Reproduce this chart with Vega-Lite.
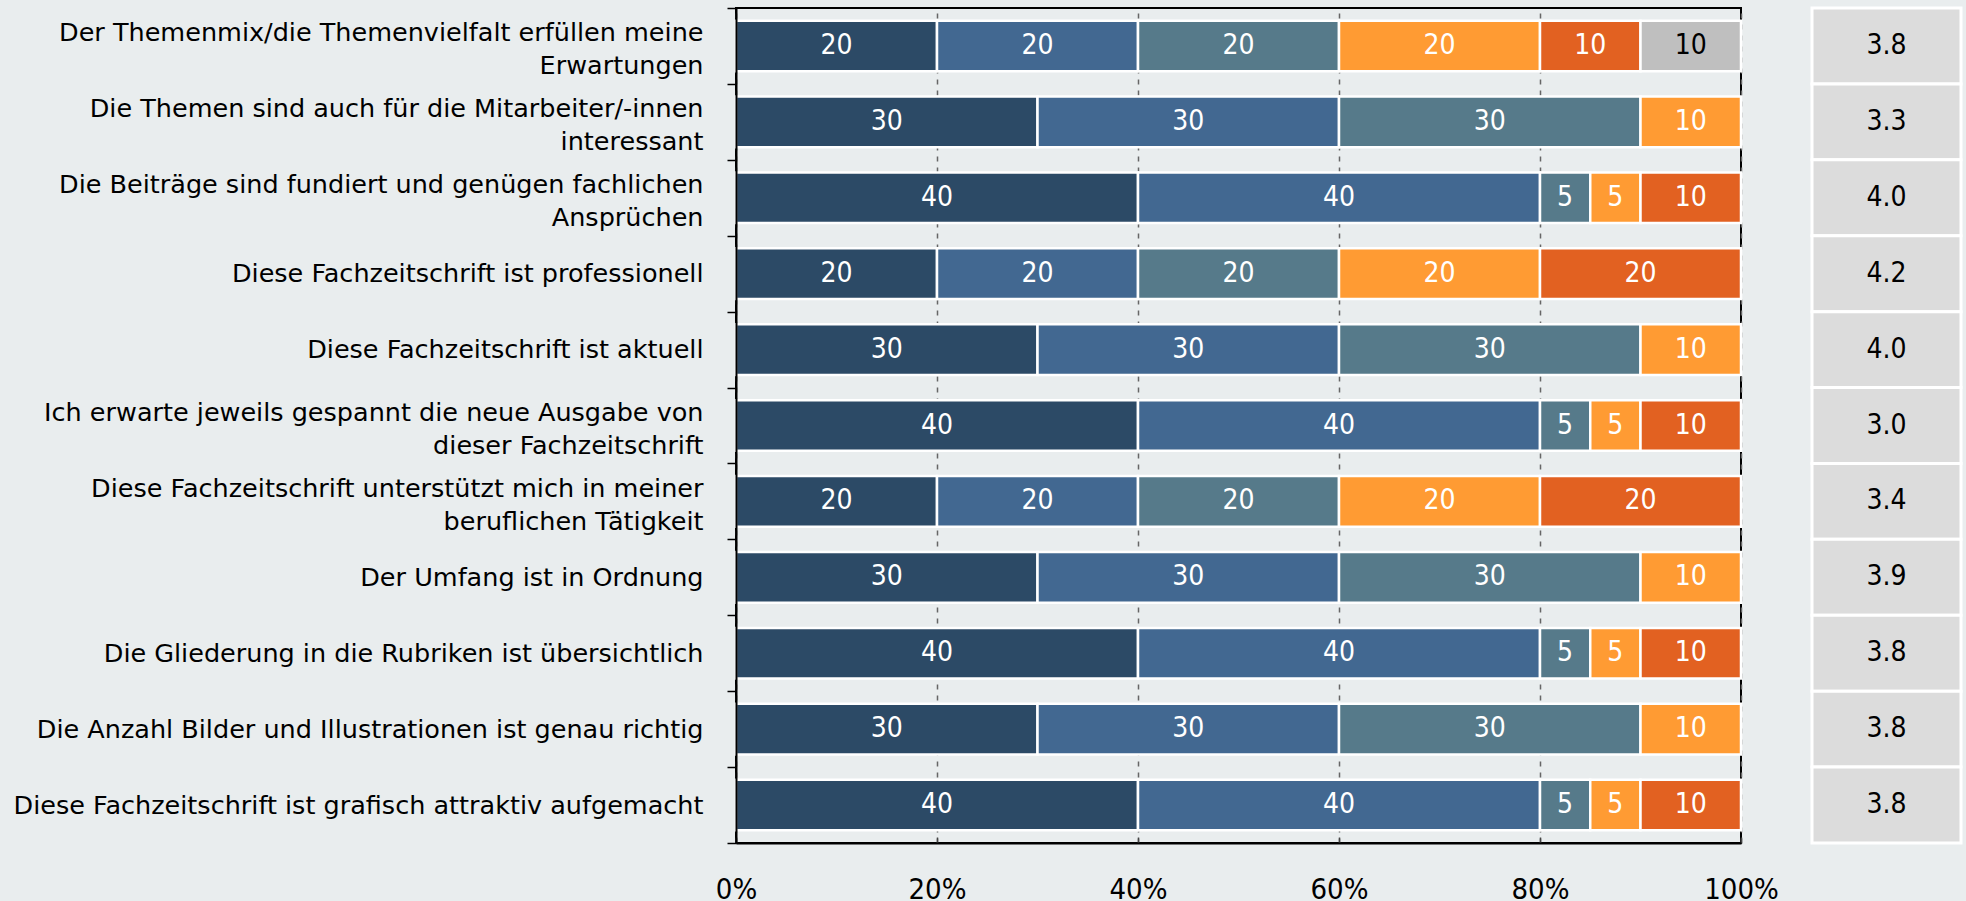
{
  "$schema": "https://vega.github.io/schema/vega-lite/v6.json",
  "background": "#E9EDEE",
  "padding": {"left": 12, "top": 6, "right": 4, "bottom": 10},
  "spacing": 71,
  "bounds": "flush",
  "config": {"view": {"stroke": null}, "font": "DejaVu Sans"},
  "hconcat": [
    {
      "width": 1005,
      "height": 835,
      "view": {"stroke": "#000000", "strokeWidth": 2},
      "data": {
        "values": [
          {"idx": 1, "label": "Der Themenmix/die Themenvielfalt erfüllen meine|Erwartungen", "cat": "1", "value": 20},
          {"idx": 1, "label": "Der Themenmix/die Themenvielfalt erfüllen meine|Erwartungen", "cat": "2", "value": 20},
          {"idx": 1, "label": "Der Themenmix/die Themenvielfalt erfüllen meine|Erwartungen", "cat": "3", "value": 20},
          {"idx": 1, "label": "Der Themenmix/die Themenvielfalt erfüllen meine|Erwartungen", "cat": "4", "value": 20},
          {"idx": 1, "label": "Der Themenmix/die Themenvielfalt erfüllen meine|Erwartungen", "cat": "5", "value": 10},
          {"idx": 1, "label": "Der Themenmix/die Themenvielfalt erfüllen meine|Erwartungen", "cat": "6", "value": 10},
          {"idx": 2, "label": "Die Themen sind auch für die Mitarbeiter/-innen|interessant", "cat": "1", "value": 30},
          {"idx": 2, "label": "Die Themen sind auch für die Mitarbeiter/-innen|interessant", "cat": "2", "value": 30},
          {"idx": 2, "label": "Die Themen sind auch für die Mitarbeiter/-innen|interessant", "cat": "3", "value": 30},
          {"idx": 2, "label": "Die Themen sind auch für die Mitarbeiter/-innen|interessant", "cat": "4", "value": 10},
          {"idx": 3, "label": "Die Beiträge sind fundiert und genügen fachlichen|Ansprüchen", "cat": "1", "value": 40},
          {"idx": 3, "label": "Die Beiträge sind fundiert und genügen fachlichen|Ansprüchen", "cat": "2", "value": 40},
          {"idx": 3, "label": "Die Beiträge sind fundiert und genügen fachlichen|Ansprüchen", "cat": "3", "value": 5},
          {"idx": 3, "label": "Die Beiträge sind fundiert und genügen fachlichen|Ansprüchen", "cat": "4", "value": 5},
          {"idx": 3, "label": "Die Beiträge sind fundiert und genügen fachlichen|Ansprüchen", "cat": "5", "value": 10},
          {"idx": 4, "label": "Diese Fachzeitschrift ist professionell", "cat": "1", "value": 20},
          {"idx": 4, "label": "Diese Fachzeitschrift ist professionell", "cat": "2", "value": 20},
          {"idx": 4, "label": "Diese Fachzeitschrift ist professionell", "cat": "3", "value": 20},
          {"idx": 4, "label": "Diese Fachzeitschrift ist professionell", "cat": "4", "value": 20},
          {"idx": 4, "label": "Diese Fachzeitschrift ist professionell", "cat": "5", "value": 20},
          {"idx": 5, "label": "Diese Fachzeitschrift ist aktuell", "cat": "1", "value": 30},
          {"idx": 5, "label": "Diese Fachzeitschrift ist aktuell", "cat": "2", "value": 30},
          {"idx": 5, "label": "Diese Fachzeitschrift ist aktuell", "cat": "3", "value": 30},
          {"idx": 5, "label": "Diese Fachzeitschrift ist aktuell", "cat": "4", "value": 10},
          {"idx": 6, "label": "Ich erwarte jeweils gespannt die neue Ausgabe von|dieser Fachzeitschrift", "cat": "1", "value": 40},
          {"idx": 6, "label": "Ich erwarte jeweils gespannt die neue Ausgabe von|dieser Fachzeitschrift", "cat": "2", "value": 40},
          {"idx": 6, "label": "Ich erwarte jeweils gespannt die neue Ausgabe von|dieser Fachzeitschrift", "cat": "3", "value": 5},
          {"idx": 6, "label": "Ich erwarte jeweils gespannt die neue Ausgabe von|dieser Fachzeitschrift", "cat": "4", "value": 5},
          {"idx": 6, "label": "Ich erwarte jeweils gespannt die neue Ausgabe von|dieser Fachzeitschrift", "cat": "5", "value": 10},
          {"idx": 7, "label": "Diese Fachzeitschrift unterstützt mich in meiner|beruflichen Tätigkeit", "cat": "1", "value": 20},
          {"idx": 7, "label": "Diese Fachzeitschrift unterstützt mich in meiner|beruflichen Tätigkeit", "cat": "2", "value": 20},
          {"idx": 7, "label": "Diese Fachzeitschrift unterstützt mich in meiner|beruflichen Tätigkeit", "cat": "3", "value": 20},
          {"idx": 7, "label": "Diese Fachzeitschrift unterstützt mich in meiner|beruflichen Tätigkeit", "cat": "4", "value": 20},
          {"idx": 7, "label": "Diese Fachzeitschrift unterstützt mich in meiner|beruflichen Tätigkeit", "cat": "5", "value": 20},
          {"idx": 8, "label": "Der Umfang ist in Ordnung", "cat": "1", "value": 30},
          {"idx": 8, "label": "Der Umfang ist in Ordnung", "cat": "2", "value": 30},
          {"idx": 8, "label": "Der Umfang ist in Ordnung", "cat": "3", "value": 30},
          {"idx": 8, "label": "Der Umfang ist in Ordnung", "cat": "4", "value": 10},
          {"idx": 9, "label": "Die Gliederung in die Rubriken ist übersichtlich", "cat": "1", "value": 40},
          {"idx": 9, "label": "Die Gliederung in die Rubriken ist übersichtlich", "cat": "2", "value": 40},
          {"idx": 9, "label": "Die Gliederung in die Rubriken ist übersichtlich", "cat": "3", "value": 5},
          {"idx": 9, "label": "Die Gliederung in die Rubriken ist übersichtlich", "cat": "4", "value": 5},
          {"idx": 9, "label": "Die Gliederung in die Rubriken ist übersichtlich", "cat": "5", "value": 10},
          {"idx": 10, "label": "Die Anzahl Bilder und Illustrationen ist genau richtig", "cat": "1", "value": 30},
          {"idx": 10, "label": "Die Anzahl Bilder und Illustrationen ist genau richtig", "cat": "2", "value": 30},
          {"idx": 10, "label": "Die Anzahl Bilder und Illustrationen ist genau richtig", "cat": "3", "value": 30},
          {"idx": 10, "label": "Die Anzahl Bilder und Illustrationen ist genau richtig", "cat": "4", "value": 10},
          {"idx": 11, "label": "Diese Fachzeitschrift ist grafisch attraktiv aufgemacht", "cat": "1", "value": 40},
          {"idx": 11, "label": "Diese Fachzeitschrift ist grafisch attraktiv aufgemacht", "cat": "2", "value": 40},
          {"idx": 11, "label": "Diese Fachzeitschrift ist grafisch attraktiv aufgemacht", "cat": "3", "value": 5},
          {"idx": 11, "label": "Diese Fachzeitschrift ist grafisch attraktiv aufgemacht", "cat": "4", "value": 5},
          {"idx": 11, "label": "Diese Fachzeitschrift ist grafisch attraktiv aufgemacht", "cat": "5", "value": 10}
        ]
      },
      "transform": [
        {"stack": "value", "groupby": ["label"], "sort": [{"field": "cat", "order": "ascending"}], "as": ["v0", "v1"]},
        {"calculate": "(datum.v0 + datum.v1) / 2", "as": "mid"}
      ],
      "encoding": {
        "y": {
          "field": "label",
          "type": "nominal",
          "sort": {"field": "idx", "op": "min"},
          "scale": {"paddingInner": 0, "paddingOuter": 0},
          "axis": {
            "title": null,
            "grid": false,
            "domainColor": "#000000",
            "domainWidth": 2,
            "tickColor": "#000000",
            "tickWidth": 1.5,
            "tickSize": 9,
            "tickBand": "extent",
            "labelExpr": "datum.value ? split(datum.value, '|') : ''",
            "labelFont": "DejaVu Sans",
            "labelFontSize": {"condition": {"test": "!datum.value", "value": 0}, "value": 25.5},
            "labelOffset": {"condition": {"test": "datum.value && indexof(datum.value, '|') >= 0", "value": -13}, "value": 0},
            "labelColor": "#000000",
            "labelLimit": 900,
            "labelPadding": 24,
            "labelLineHeight": 33,
            "labelBaseline": "middle",
            "zindex": 1
          }
        }
      },
      "layer": [
        {
          "mark": {"type": "bar", "stroke": "#FFFFFF", "strokeWidth": 2.5, "height": {"band": 0.667}},
          "encoding": {
            "x": {
              "field": "v0",
              "type": "quantitative",
              "scale": {"domain": [0, 100], "nice": false},
              "axis": {
                "title": null,
                "values": [0, 20, 40, 60, 80, 100],
                "labelExpr": "datum.value + '%'",
                "grid": true,
                "gridColor": "#666666",
                "gridDash": [5, 6],
                "gridWidth": 1.5,
                "domainColor": "#000000",
                "domainWidth": 2,
                "tickColor": "#444444",
                "tickSize": -6,
                "tickWidth": 1.5,
                "labelFont": "DejaVu Sans Condensed, DejaVu Sans",
                "labelFontSize": 29,
                "labelColor": "#000000",
                "labelPadding": 38,
                "labelFlush": false,
                "labelOverlap": false,
                "zindex": 0
              }
            },
            "x2": {"field": "v1"},
            "color": {
              "field": "cat",
              "type": "nominal",
              "scale": {
                "domain": ["1", "2", "3", "4", "5", "6"],
                "range": ["#2C4A66", "#426891", "#567A8A", "#FF9B33", "#E26121", "#BFBFBF"]
              },
              "legend": null
            }
          }
        },
        {
          "mark": {"type": "text", "font": "DejaVu Sans Condensed, DejaVu Sans", "fontSize": 28},
          "encoding": {
            "x": {"field": "mid", "type": "quantitative"},
            "text": {"field": "value", "type": "quantitative"},
            "color": {
              "condition": {"test": "datum.cat === '6'", "value": "#000000"},
              "value": "#FFFFFF"
            }
          }
        }
      ]
    },
    {
      "width": 149,
      "height": 835,
      "view": {"stroke": null},
      "data": {
        "values": [
          {"idx": 1, "label": "Der Themenmix/die Themenvielfalt erfüllen meine Erwartungen", "mean": 3.8},
          {"idx": 2, "label": "Die Themen sind auch für die Mitarbeiter/-innen interessant", "mean": 3.3},
          {"idx": 3, "label": "Die Beiträge sind fundiert und genügen fachlichen Ansprüchen", "mean": 4.0},
          {"idx": 4, "label": "Diese Fachzeitschrift ist professionell", "mean": 4.2},
          {"idx": 5, "label": "Diese Fachzeitschrift ist aktuell", "mean": 4.0},
          {"idx": 6, "label": "Ich erwarte jeweils gespannt die neue Ausgabe von dieser Fachzeitschrift", "mean": 3.0},
          {"idx": 7, "label": "Diese Fachzeitschrift unterstützt mich in meiner beruflichen Tätigkeit", "mean": 3.4},
          {"idx": 8, "label": "Der Umfang ist in Ordnung", "mean": 3.9},
          {"idx": 9, "label": "Die Gliederung in die Rubriken ist übersichtlich", "mean": 3.8},
          {"idx": 10, "label": "Die Anzahl Bilder und Illustrationen ist genau richtig", "mean": 3.8},
          {"idx": 11, "label": "Diese Fachzeitschrift ist grafisch attraktiv aufgemacht", "mean": 3.8}
        ]
      },
      "encoding": {
        "y": {
          "field": "label",
          "type": "nominal",
          "sort": {"field": "idx", "op": "min"},
          "scale": {"paddingInner": 0, "paddingOuter": 0},
          "axis": null
        }
      },
      "layer": [
        {"mark": {"type": "rect", "fill": "#DCDCDC", "stroke": "#FFFFFF", "strokeWidth": 3}},
        {
          "mark": {"type": "text", "font": "DejaVu Sans Condensed, DejaVu Sans", "fontSize": 28, "color": "#000000"},
          "encoding": {"text": {"field": "mean", "type": "quantitative", "format": ".1f"}}
        }
      ]
    }
  ]
}
